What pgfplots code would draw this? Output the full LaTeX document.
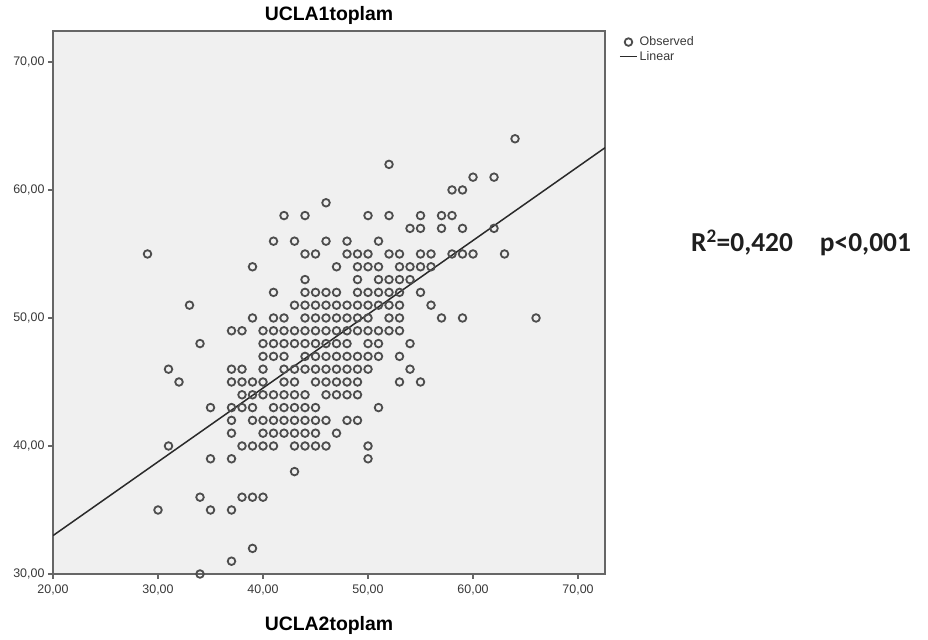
\documentclass[border=0pt]{standalone}
\usepackage{fontspec}
\setmainfont{Liberation Sans}
\newfontfamily\calibri{Carlito}
\usepackage{pgfplots}
\pgfplotsset{compat=1.18}

\definecolor{plotbg}{HTML}{F0F0F0}
\definecolor{framegray}{HTML}{666666}
\definecolor{markgray}{HTML}{4D4D4D}
\definecolor{fitline}{HTML}{2A2A2A}

\begin{document}
\begin{tikzpicture}[x=1bp,y=1bp]
\useasboundingbox (0,0) rectangle (928,640);
\begin{axis}[
    at={(53bp,66bp)}, anchor=south west,
    scale only axis, width=552bp, height=543bp,
    xmin=20, xmax=72.57, ymin=30, ymax=72.42,
    xtick={20,30,...,70}, ytick={30,40,...,70},
    tick pos=left, tick align=outside,
    major tick length=5bp,
    tick style={draw=framegray, line width=1.3bp},
    axis line style={draw=framegray, line width=1.6bp},
    axis background/.style={fill=plotbg},
    /pgf/number format/.cd, fixed, fixed zerofill, precision=2, use comma,
    assume math mode=true,
    /pgfplots/.cd,
    ticklabel style={font=\fontsize{12.5}{12.5}\selectfont, text=black!78},
    xticklabel style={yshift=-2bp},
    title={UCLA1toplam},
    title style={font=\bfseries\fontsize{19.5}{21}\selectfont, at={(0.5,1)}, anchor=south, yshift=-3bp},
    xlabel={UCLA2toplam},
    xlabel style={font=\bfseries\fontsize{19.5}{21}\selectfont, at={(axis description cs:0.5,0)}, anchor=center, yshift=-51bp},
    legend style={at={(1.02,0.997)}, anchor=north west, draw=none, fill=none,
        font=\fontsize{12.5}{14}\selectfont, text=black!78, row sep=0bp},
    legend cell align=left,
]
% observed values, one line per UCLA1toplam value
\addplot[only marks, mark=o, mark size=3.8bp, mark options={draw=markgray, line width=1.8bp}]
coordinates {
(64,64)
(52,62)
(60,61) (62,61)
(58,60) (59,60)
(46,59)
(42,58) (44,58) (50,58) (52,58) (55,58) (57,58) (58,58)
(54,57) (55,57) (57,57) (59,57) (62,57)
(41,56) (43,56) (46,56) (48,56) (51,56)
(29,55) (44,55) (45,55) (48,55) (49,55) (50,55) (52,55) (53,55) (55,55) (56,55) (58,55) (59,55) (60,55) (63,55)
(39,54) (47,54) (49,54) (50,54) (51,54) (53,54) (54,54) (55,54) (56,54)
(44,53) (49,53) (51,53) (52,53) (53,53) (54,53)
(41,52) (44,52) (45,52) (46,52) (47,52) (49,52) (50,52) (51,52) (52,52) (53,52) (55,52)
(33,51) (43,51) (44,51) (45,51) (46,51) (47,51) (48,51) (49,51) (50,51) (51,51) (52,51) (53,51) (56,51)
(39,50) (41,50) (42,50) (44,50) (45,50) (46,50) (47,50) (48,50) (49,50) (50,50) (52,50) (53,50) (57,50) (59,50) (66,50)
(37,49) (38,49) (40,49) (41,49) (42,49) (43,49) (44,49) (45,49) (46,49) (47,49) (48,49) (49,49) (50,49) (51,49) (52,49) (53,49)
(34,48) (40,48) (41,48) (42,48) (43,48) (44,48) (45,48) (46,48) (47,48) (48,48) (50,48) (51,48) (54,48)
(40,47) (41,47) (42,47) (44,47) (45,47) (46,47) (47,47) (48,47) (49,47) (50,47) (51,47) (53,47)
(31,46) (37,46) (38,46) (40,46) (42,46) (43,46) (44,46) (45,46) (46,46) (47,46) (48,46) (49,46) (50,46) (54,46)
(32,45) (37,45) (38,45) (39,45) (40,45) (42,45) (43,45) (45,45) (46,45) (47,45) (48,45) (49,45) (53,45) (55,45)
(38,44) (39,44) (40,44) (41,44) (42,44) (43,44) (44,44) (46,44) (47,44) (48,44) (49,44)
(35,43) (37,43) (38,43) (39,43) (41,43) (42,43) (43,43) (44,43) (45,43) (51,43)
(37,42) (39,42) (40,42) (41,42) (42,42) (43,42) (44,42) (45,42) (46,42) (48,42) (49,42)
(37,41) (40,41) (41,41) (42,41) (43,41) (44,41) (45,41) (47,41)
(31,40) (38,40) (39,40) (40,40) (41,40) (43,40) (44,40) (45,40) (46,40) (50,40)
(35,39) (37,39) (50,39)
(43,38)
(34,36) (38,36) (39,36) (40,36)
(30,35) (35,35) (37,35)
(39,32)
(37,31)
(34,30)
};
\addlegendentry{Observed}
% fitted linear model
\addplot[no marks, draw=fitline, line width=1.5bp] coordinates {(20,33.0) (72.57,63.3)};
\addlegendentry{Linear}
\end{axis}
\node[font=\calibri\bfseries\fontsize{27.5}{29}\selectfont, text=black!88] at (801,397)
    {R\textsuperscript{2}=0,420\hspace{27bp}p<0,001};
\end{tikzpicture}
\end{document}
